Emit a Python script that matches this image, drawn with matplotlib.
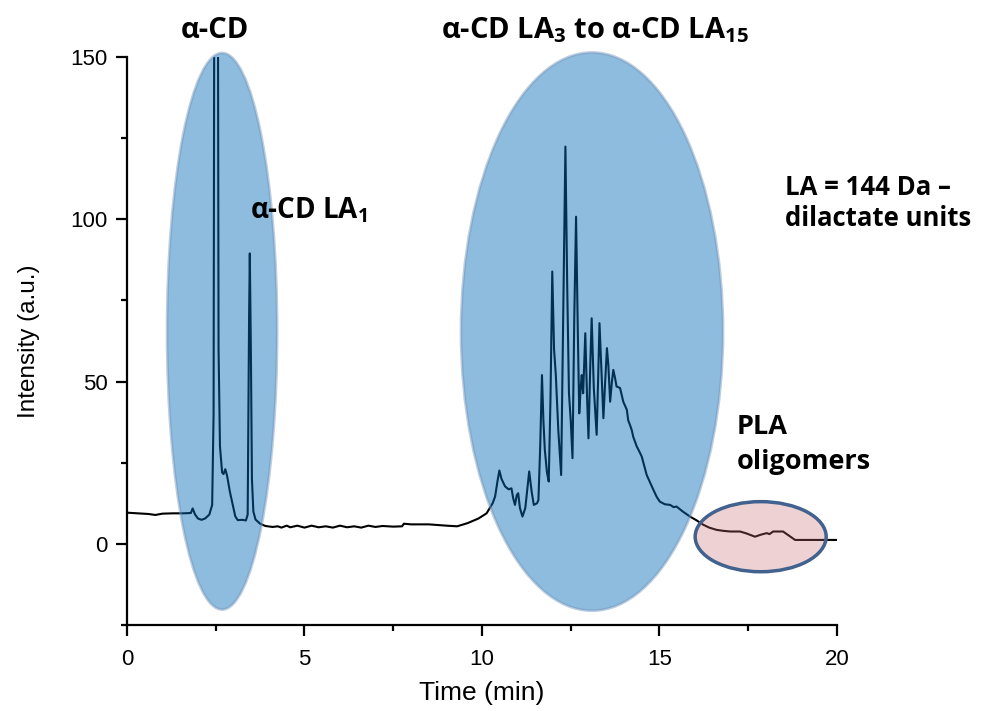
import numpy as np
import matplotlib
matplotlib.use("Agg")
import matplotlib.pyplot as plt
from matplotlib.patches import Ellipse
from matplotlib.ticker import MultipleLocator

plt.rcParams['font.family'] = ['Liberation Sans', 'DejaVu Sans']
plt.rcParams['mathtext.fontset'] = 'custom'
plt.rcParams['mathtext.rm'] = 'Open Sans:bold'
plt.rcParams['mathtext.default'] = 'rm'

# Chromatogram trace (time in min, intensity in a.u.)
time_min = [
    0.00, 0.30, 0.60, 0.80, 1.00, 1.30, 1.60, 1.80, 1.85, 1.92, 2.00, 2.10, 2.20, 2.32,
    2.40, 2.44, 2.47, 2.55, 2.58, 2.62, 2.68, 2.72, 2.77, 2.82, 2.90, 2.98, 3.05, 3.12,
    3.25, 3.35, 3.40, 3.44, 3.46, 3.49, 3.52, 3.56, 3.62, 3.75, 3.90, 4.10, 4.25, 4.35,
    4.50, 4.60, 4.80, 5.00, 5.20, 5.40, 5.60, 5.80, 6.00, 6.20, 6.40, 6.60, 6.80, 7.00,
    7.20, 7.50, 7.75, 7.80, 8.00, 8.50, 9.00, 9.30, 9.60, 9.90, 10.13, 10.30, 10.37,
    10.44, 10.49, 10.55, 10.65, 10.75, 10.83, 10.88, 10.93, 10.98, 11.02, 11.07, 11.14,
    11.22, 11.33, 11.40, 11.46, 11.55, 11.59, 11.64, 11.69, 11.73, 11.77, 11.83, 11.88,
    11.93, 11.98, 12.03, 12.08, 12.15, 12.23, 12.30, 12.35, 12.40, 12.45, 12.50, 12.55,
    12.60, 12.65, 12.70, 12.74, 12.78, 12.81, 12.85, 12.91, 12.96, 13.00, 13.05, 13.09,
    13.15, 13.23, 13.27, 13.31, 13.36, 13.42, 13.47, 13.52, 13.56, 13.61, 13.66, 13.70,
    13.75, 13.79, 13.89, 13.98, 14.08, 14.12, 14.17, 14.22, 14.26, 14.36, 14.43, 14.50,
    14.64, 14.75, 14.83, 14.92, 15.01, 15.15, 15.30, 15.40, 15.48, 15.65, 15.86, 16.05,
    16.23, 16.40, 16.61, 16.80, 16.99, 17.27, 17.45, 17.69, 17.85, 18.02, 18.10, 18.20,
    18.48, 18.65, 18.82, 19.30, 19.99,
]
intensity = [
    9.6, 9.4, 9.2, 8.9, 9.3, 9.4, 9.4, 9.5, 10.9, 9.0, 7.8, 7.4, 7.8, 9.0,
    12.0, 40.0, 250.0, 250.0, 60.0, 30.0, 22.0, 21.5, 23.0, 21.0, 16.0, 12.0, 8.5, 7.3,
    7.4, 7.2, 9.0, 70.0, 89.5, 60.0, 20.0, 10.0, 7.5, 6.2, 5.5, 5.2, 5.4, 5.0,
    5.6, 5.1, 5.6, 5.0, 5.6, 5.1, 5.4, 5.0, 5.6, 5.1, 5.4, 5.0, 5.6, 5.2,
    5.5, 5.3, 5.4, 6.2, 6.0, 6.0, 5.6, 5.4, 6.4, 7.8, 9.4, 12.5, 14.6,
    19.5, 22.6, 20.0, 17.7, 16.8, 17.1, 14.0, 12.0, 15.0, 15.6, 11.0, 8.4,
    11.0, 22.3, 16.0, 12.0, 12.5, 13.5, 30.0, 52.0, 38.0, 29.0, 22.0, 19.2,
    45.0, 83.9, 60.0, 52.0, 35.0, 21.2, 80.0, 122.4, 80.0, 46.4, 38.0, 26.4,
    70.0, 100.8, 65.0, 40.2, 48.0, 52.0, 46.4, 64.9, 45.0, 32.5, 55.0, 69.5,
    48.0, 33.6, 50.0, 68.0, 55.0, 38.7, 50.0, 60.3, 55.0, 43.8, 50.0, 53.6,
    51.0, 48.5, 48.0, 43.8, 41.3, 38.0, 36.6, 35.0, 33.0, 30.0, 28.5, 26.9,
    21.2, 18.5, 16.6, 14.5, 13.0, 12.2, 12.0, 11.3, 11.5, 10.0, 8.4, 7.2,
    5.9, 5.0, 4.3, 4.0, 3.8, 3.8, 3.2, 2.2, 2.8, 3.3, 3.0, 3.8,
    3.8, 2.5, 1.2, 1.2, 1.2,
]

# Highlight regions: (centre time, centre intensity, width, height)
cd_region = (2.68, 65.5, 3.1, 171.5)
oligo_region = (13.1, 65.4, 7.38, 172.0)
pla_region = (17.85, 2.2, 3.69, 21.6)

fig = plt.figure(figsize=(9.95, 7.11), dpi=100)
ax = fig.add_axes([0.1276, 0.121, 0.7136, 0.7988])

ax.plot(time_min, intensity, color='black', lw=1.5, zorder=2)

blue_face = (0.016, 0.424, 0.73, 0.45)
blue_edge = (0.45, 0.58, 0.72, 0.45)
for cx, cy, w, h in [cd_region, oligo_region]:
    ax.add_patch(Ellipse((cx, cy), w, h, facecolor=blue_face, edgecolor=blue_edge,
                         lw=2, zorder=3, clip_on=False))
ax.add_patch(Ellipse(pla_region[:2], pla_region[2], pla_region[3],
                     facecolor=(0.78, 0.41, 0.44, 0.3), edgecolor='#41618f',
                     lw=2.5, zorder=4, clip_on=False))

ax.set_xlim(0, 20)
ax.set_ylim(-25, 150)
ax.xaxis.set_major_locator(MultipleLocator(5))
ax.xaxis.set_minor_locator(MultipleLocator(2.5))
ax.yaxis.set_major_locator(MultipleLocator(50))
ax.yaxis.set_minor_locator(MultipleLocator(25))
ax.spines['top'].set_visible(False)
ax.spines['right'].set_visible(False)
for s in ['left', 'bottom']:
    ax.spines[s].set_linewidth(1.6)
ax.tick_params(which='major', direction='out', length=8, width=1.6, labelsize=16, pad=6)
ax.tick_params(axis='x', which='major', pad=9)
ax.tick_params(which='minor', direction='out', length=4, width=1.6)
ax.set_xlabel('Time (min)', fontsize=19, labelpad=8)
ax.set_ylabel('Intensity (a.u.)', fontsize=17.5, labelpad=22)

lbl = dict(family=['Open Sans', 'DejaVu Sans'], fontweight='bold',
           clip_on=False, zorder=5)
ax.text(2.48, 158.3, 'α-CD', ha='center', va='center', fontsize=21, **lbl)
ax.text(3.46, 102.9, 'α-CD LA$_1$', ha='left', va='center', fontsize=20, **lbl)
ax.text(13.18, 158.3, 'α-CD LA$_3$ to α-CD LA$_{15}$', ha='center', va='center',
        fontsize=21, **lbl)
ax.text(18.54, 105.0, 'LA = 144 Da –\ndilactate units', ha='left', va='center',
        linespacing=1.15, fontsize=18.5, **lbl)
ax.text(17.18, 30.5, 'PLA\noligomers', ha='left', va='center', linespacing=1.45,
        fontsize=19.5, **lbl)

fig.savefig('out.png', dpi=100)
